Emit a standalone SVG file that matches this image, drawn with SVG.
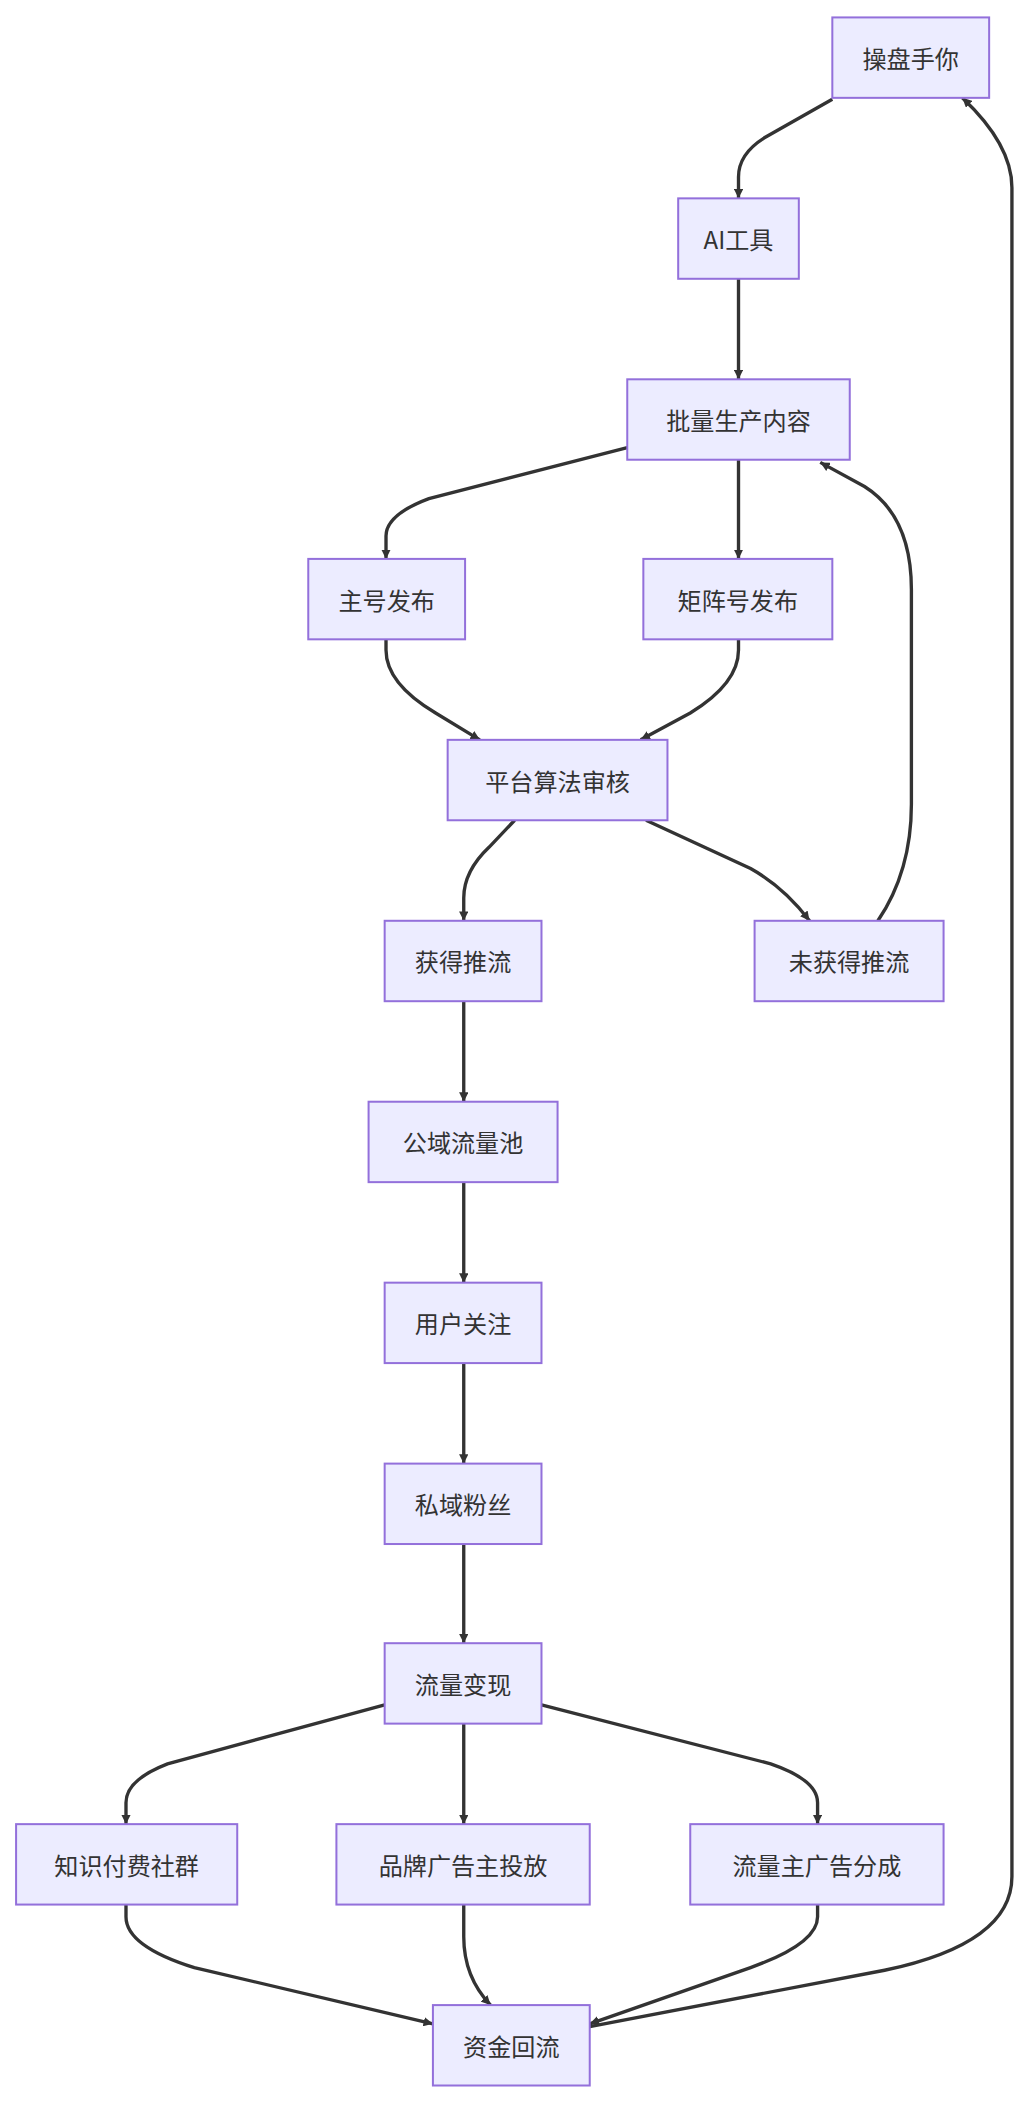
<svg xmlns="http://www.w3.org/2000/svg" width="1032" height="2108" viewBox="0 0 1032 2108">
<style>
.n rect{fill:#ECECFF;stroke:#9370DB;stroke-width:1.5}
.n text{font-family:"Noto Sans CJK SC","Liberation Sans",sans-serif;font-size:18px;fill:#333;text-anchor:middle;dominant-baseline:central}
.e path{fill:none;stroke:#333;stroke-width:2.5}
</style>
<defs><marker id="a" viewBox="0 0 10 10" refX="10" refY="5" markerWidth="7" markerHeight="7" markerUnits="userSpaceOnUse" orient="auto"><path d="M0,0L10,5L0,10z" fill="#333"/></marker></defs>
<rect width="1032" height="2108" fill="#fff"/>
<g transform="scale(1.3403)">
<g class="e" marker-end="url(#a)">
<path marker-end="url(#a)" d="M621,74 L570,103 Q551,115 551,132 L551,148"/>
<path marker-end="url(#a)" d="M551,208 L551,283"/>
<path marker-end="url(#a)" d="M468,334 L320,372 Q288,384 288,400 L288,417"/>
<path marker-end="url(#a)" d="M551,343 L551,417"/>
<path marker-end="url(#a)" d="M288,477 L288,485 Q288,510 325,532 L358,552"/>
<path marker-end="url(#a)" d="M551,477 L551,485 Q551,510 515,532 L478,552"/>
<path marker-end="url(#a)" d="M384,612 L365,632 Q346,650 346,670 L346,687"/>
<path marker-end="url(#a)" d="M482,612 L560,648 Q585,662 604,687"/>
<path marker-end="url(#a)" d="M655,687 Q680,650 680,600 L680,440 Q680,385 645,363 L612,345"/>
<path marker-end="url(#a)" d="M346,747 L346,822"/>
<path marker-end="url(#a)" d="M346,882 L346,957"/>
<path marker-end="url(#a)" d="M346,1017 L346,1092"/>
<path marker-end="url(#a)" d="M346,1152 L346,1226"/>
<path marker-end="url(#a)" d="M287,1272 L125,1316 Q94,1328 94,1345 L94,1361"/>
<path marker-end="url(#a)" d="M346,1286 L346,1361"/>
<path marker-end="url(#a)" d="M404,1272 L575,1316 Q610,1328 610,1345 L610,1361"/>
<path marker-end="url(#a)" d="M94,1421 L94,1430 Q94,1452 145,1468 L323,1510"/>
<path marker-end="url(#a)" d="M346,1421 L346,1445 Q346,1475 366,1496"/>
<path marker-end="url(#a)" d="M610,1421 L610,1430 Q610,1450 560,1468 L440,1510"/>
<path marker-end="url(#a)" d="M440,1512 L660,1470 Q755,1450 755,1400 L755,140 Q755,108 718,73"/>
</g>
<g id="n1" class="n"><rect x="621" y="13" width="117" height="60"/><text x="679.5" y="43">操盘手你</text></g>
<g id="n2" class="n"><rect x="506" y="148" width="90" height="60"/><text x="551" y="178">AI工具</text></g>
<g id="n3" class="n"><rect x="468" y="283" width="166" height="60"/><text x="551" y="313">批量生产内容</text></g>
<g id="n4" class="n"><rect x="230" y="417" width="117" height="60"/><text x="288.5" y="447">主号发布</text></g>
<g id="n5" class="n"><rect x="480" y="417" width="141" height="60"/><text x="550.5" y="447">矩阵号发布</text></g>
<g id="n6" class="n"><rect x="334" y="552" width="164" height="60"/><text x="416" y="582">平台算法审核</text></g>
<g id="n7" class="n"><rect x="287" y="687" width="117" height="60"/><text x="345.5" y="717">获得推流</text></g>
<g id="n8" class="n"><rect x="563" y="687" width="141" height="60"/><text x="633.5" y="717">未获得推流</text></g>
<g id="n9" class="n"><rect x="275" y="822" width="141" height="60"/><text x="345.5" y="852">公域流量池</text></g>
<g id="n10" class="n"><rect x="287" y="957" width="117" height="60"/><text x="345.5" y="987">用户关注</text></g>
<g id="n11" class="n"><rect x="287" y="1092" width="117" height="60"/><text x="345.5" y="1122">私域粉丝</text></g>
<g id="n12" class="n"><rect x="287" y="1226" width="117" height="60"/><text x="345.5" y="1256">流量变现</text></g>
<g id="n13" class="n"><rect x="12" y="1361" width="165" height="60"/><text x="94.5" y="1391">知识付费社群</text></g>
<g id="n14" class="n"><rect x="251" y="1361" width="189" height="60"/><text x="345.5" y="1391">品牌广告主投放</text></g>
<g id="n15" class="n"><rect x="515" y="1361" width="189" height="60"/><text x="609.5" y="1391">流量主广告分成</text></g>
<g id="n16" class="n"><rect x="323" y="1496" width="117" height="60"/><text x="381.5" y="1526">资金回流</text></g>
</g>
</svg>
